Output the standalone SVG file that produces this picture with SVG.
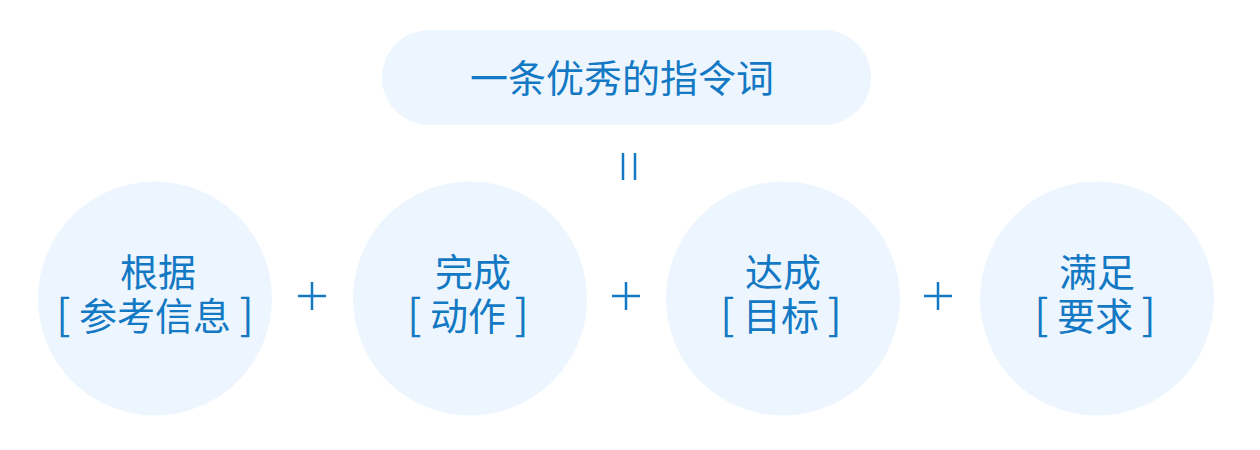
<svg xmlns="http://www.w3.org/2000/svg" width="1260" height="450" viewBox="0 0 1260 450">
<style>
.bg{fill:#edf6fe}
.t{font-family:"Noto Sans CJK SC","Noto Sans",sans-serif;fill:#1479c4;text-anchor:middle;font-size:38px}
.br{font-family:"Noto Sans CJK SC","Noto Sans",sans-serif;font-size:42px;font-weight:400}
.op{stroke:#1479c4;stroke-width:2.5;fill:none}
</style>
<rect width="1260" height="450" fill="#ffffff"/>
<g id="title">
<rect class="bg" x="382" y="30" width="489" height="95" rx="47.5"/>
<text class="t" x="622" y="92" font-size="39">一条优秀的指令词</text>
</g>
<g id="connectors">
<path class="op" d="M623 153V180M635 153V180"/>
<path class="op" d="M298 296H326M312 282V310"/>
<path class="op" d="M612 296H640M626 282V310"/>
<path class="op" d="M924 296H952M938 282V310"/>
</g>
<g id="n1">
<circle class="bg" cx="155" cy="298.5" r="117"/>
<text class="t" x="158" y="286">根据</text>
<text class="t" x="155" y="330"><tspan class="br">[</tspan> 参考信息 <tspan class="br">]</tspan></text>
</g>
<g id="n2">
<circle class="bg" cx="470" cy="298.5" r="117"/>
<text class="t" x="473" y="286">完成</text>
<text class="t" x="468" y="330"><tspan class="br">[</tspan> 动作 <tspan class="br">]</tspan></text>
</g>
<g id="n3">
<circle class="bg" cx="783" cy="298.5" r="117"/>
<text class="t" x="783" y="286">达成</text>
<text class="t" x="781" y="330"><tspan class="br">[</tspan> 目标 <tspan class="br">]</tspan></text>
</g>
<g id="n4">
<circle class="bg" cx="1097" cy="298.5" r="117"/>
<text class="t" x="1097" y="286">满足</text>
<text class="t" x="1095" y="330"><tspan class="br">[</tspan> 要求 <tspan class="br">]</tspan></text>
</g>
</svg>
